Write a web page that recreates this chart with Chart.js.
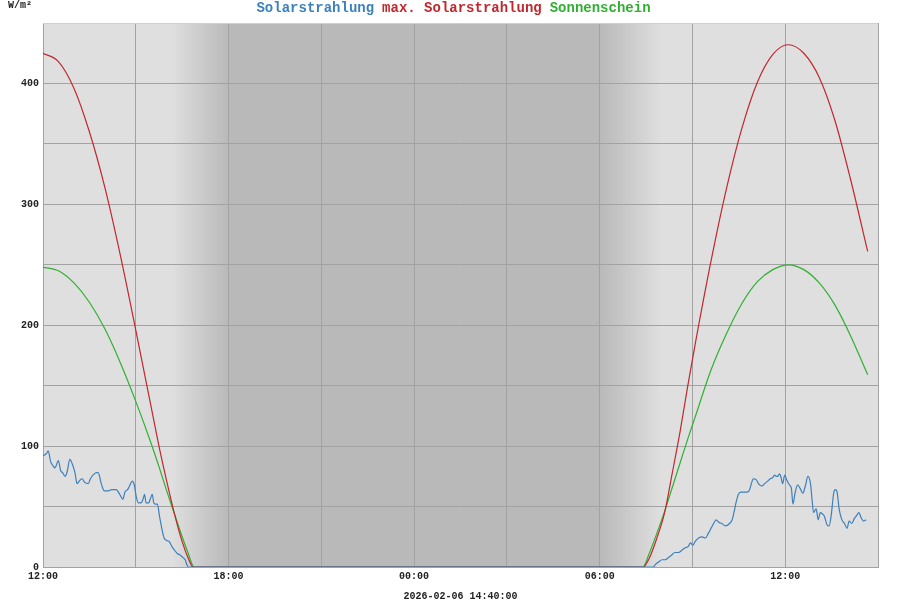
<!DOCTYPE html>
<html><head><meta charset="utf-8">
<script src="https://cdn.jsdelivr.net/npm/chart.js@4/dist/chart.umd.min.js"></script>
<style>html,body{margin:0;padding:0;background:#fff}#wrap{width:900px;height:600px}</style>
</head><body><div id="wrap"><canvas id="c" width="900" height="600"></canvas></div>
<script>
// time = minutes after 12:00 on the first day
const seriesNames = ['Solarstrahlung', 'max. Solarstrahlung', 'Sonnenschein'];
const seriesColors = ['#3c80be', '#c0282e', '#30b030'];

const solarTime = [0,7,10,15,19,23,30,34,38,43,47,52,57,62,66,72,76,81,88,92,97,104,107,113,119,127,133,142,149,155,159,164,169,173,177,181,185,190,194,197,200,205,208,212,215,219,222,226,230,235,240,245,250,255,261,266,271,276,279,282,
 1184,1188,1194,1201,1207,1214,1220,1226,1233,1240,1246,1252,1256,1261,1265,1272,1278,1285,1291,1296,1301,1306,1311,1317,1324,1332,1337,1341,1345,1349,1354,1359,1366,1371,1375,1378,1384,1388,1395,1400,1406,1411,1416,1419,1423,1425,1429,1432,1435,1439,1443,1448,1452,1455,1459,1464,1469,1474,1479,1484,1489,1492,1495,1500,1504,1508,1512,1516,1521,1525,1529,1534,1537,1540,1545,1550,1555,1560,1564,1569,1574,1579,1583,1587,1592,1597];
const solarValue = [92,94,96,87,84,82,88,80,78,75,79,89,85,78,69,72,73,70,69,73,76,78,78,69,63,63,64,64,60,56,62,64,68,71,68,58,53,53,56,60,53,53,56,60,53,52,52,42,33,24,22,21,17,14,11,10,8,6,2,0,
 0,2,4,6,6,8,10,12,12,14,16,17,20,18,21,24,25,24,28,32,36,39,37,36,34,36,39,46,54,60,62,62,62,64,70,73,72,69,67,69,71,73,74,76,75,75,77,74,69,76,72,68,65,52,61,68,65,61,67,75,69,56,45,48,39,45,44,42,35,34,42,61,64,63,47,39,36,32,38,36,40,43,45,41,38,39];

const maxTime = [0,30,60,90,120,150,180,210,225,240,255,270,282,291,
 1164,1176,1191,1206,1221,1236,1251,1266,1296,1326,1356,1386,1416,1446,1476,1506,1536,1566,1600];
const maxValue = [425,418,396,360,314,258,196,132,100,71,44,21,7,0,
 0,7,24,45,78,112,150,186,253,313,363,401,424,432,425,405,370,322,261];

const sunTime = [0,30,60,90,120,150,180,210,225,240,255,270,282,293,
 1164,1176,1191,1206,1221,1236,1251,1266,1296,1326,1356,1386,1416,1446,1476,1506,1536,1566,1600];
const sunValue = [248,245,235,219,197,169,137,102,83,63,44,25,11,0,
 0,11,28,46,66,86,106,125,163,193,218,236,246,250,246,235,217,192,159];

const xTickLabels = ['12:00', '18:00', '00:00', '06:00', '12:00'];
const yTickLabels = ['0', '100', '200', '300', '400'];
const nightShade = [250, 360, 1080, 1200];
const timestamp = '2026-02-06 14:40:00';
const unitLabel = 'W/m²';

const FONT = '"Liberation Mono", "DejaVu Sans Mono", monospace';
const pts = (t, v) => t.map((x, i) => ({x: x, y: v[i]}));

const shadePlugin = {
  id: 'shade',
  beforeDraw(chart) {
    const {ctx, chartArea: a, scales: {x}} = chart;
    const w = a.right - a.left;
    const f = v => Math.min(1, Math.max(0, (x.getPixelForValue(v) - a.left) / w));
    const g = ctx.createLinearGradient(a.left, 0, a.right, 0);
    g.addColorStop(0, '#dfdfdf');
    g.addColorStop(f(nightShade[0]), '#dfdfdf');
    g.addColorStop(f(nightShade[1]), '#b9b9b9');
    g.addColorStop(f(nightShade[2]), '#b9b9b9');
    g.addColorStop(f(nightShade[3]), '#dfdfdf');
    g.addColorStop(1, '#dfdfdf');
    ctx.save();
    ctx.fillStyle = g;
    ctx.fillRect(a.left, a.top, w, a.bottom - a.top);
    ctx.restore();
  },
  afterDraw(chart) {
    const ctx = chart.ctx;
    ctx.save();
    ctx.font = 'bold 10px ' + FONT;
    ctx.fillStyle = '#222';
    ctx.textBaseline = 'middle';
    ctx.textAlign = 'left';
    ctx.fillText(unitLabel, 8, 5);
    ctx.restore();
  }
};

const mk = (i, t, v) => ({
  label: seriesNames[i], data: pts(t, v), borderColor: seriesColors[i], backgroundColor: seriesColors[i],
  borderWidth: 1.2, pointRadius: 0, fill: false, tension: 0, cubicInterpolationMode: 'monotone', spanGaps: true
});

new Chart(document.getElementById('c'), {
  type: 'line',
  data: { datasets: [mk(0, solarTime, solarValue), mk(1, maxTime, maxValue), mk(2, sunTime, sunValue)] },
  plugins: [shadePlugin],
  options: {
    responsive: false, animation: false, devicePixelRatio: 1,
    layout: { padding: { left: 0, right: 0, top: 0, bottom: 0 } },
    plugins: {
      tooltip: { enabled: false },
      legend: {
        display: true, position: 'top', align: 'center', maxHeight: 23,
        labels: {
          boxWidth: 0, boxHeight: 0, padding: 1,
          font: { family: FONT, size: 14, weight: 'bold' },
          generateLabels: (chart) => chart.data.datasets.map((d, i) => ({
            text: d.label, fontColor: seriesColors[i], fillStyle: 'rgba(0,0,0,0)',
            strokeStyle: 'rgba(0,0,0,0)', lineWidth: 0, hidden: false, datasetIndex: i
          }))
        }
      }
    },
    scales: {
      x: {
        type: 'linear', min: 0, max: 1620,
        afterFit: s => { s.height = 33; },
        ticks: {
          stepSize: 180, autoSkip: false, maxRotation: 0, padding: 3, color: '#222',
          font: { family: FONT, size: 10, weight: 'bold' },
          callback: v => (v % 360 === 0 ? xTickLabels[v / 360] : '')
        },
        grid: { color: '#a2a2a2', lineWidth: 1, drawTicks: false },
        border: { display: true, color: '#a2a2a2' },
        title: { display: true, text: timestamp, color: '#222', padding: { top: 0, bottom: 0 },
                 font: { family: FONT, size: 10, weight: 'bold', lineHeight: 0.8 } }
      },
      y: {
        min: 0, max: 450,
        afterFit: s => { s.width = 43; },
        ticks: {
          stepSize: 50, padding: 4, color: '#222',
          font: { family: FONT, size: 10, weight: 'bold' },
          callback: v => (v % 100 === 0 ? yTickLabels[v / 100] : '')
        },
        grid: { color: c => (c.tick && c.tick.value === 450 ? '#cfcfcf' : '#a2a2a2'), lineWidth: 1, drawTicks: false },
        border: { display: false }
      },
      yRight: {
        position: 'right', display: true, min: 0, max: 450,
        afterFit: s => { s.width = 22; },
        ticks: { display: false },
        grid: { display: false, drawOnChartArea: false, drawTicks: false },
        border: { display: false }
      }
    }
  }
});
</script>
</body></html>
